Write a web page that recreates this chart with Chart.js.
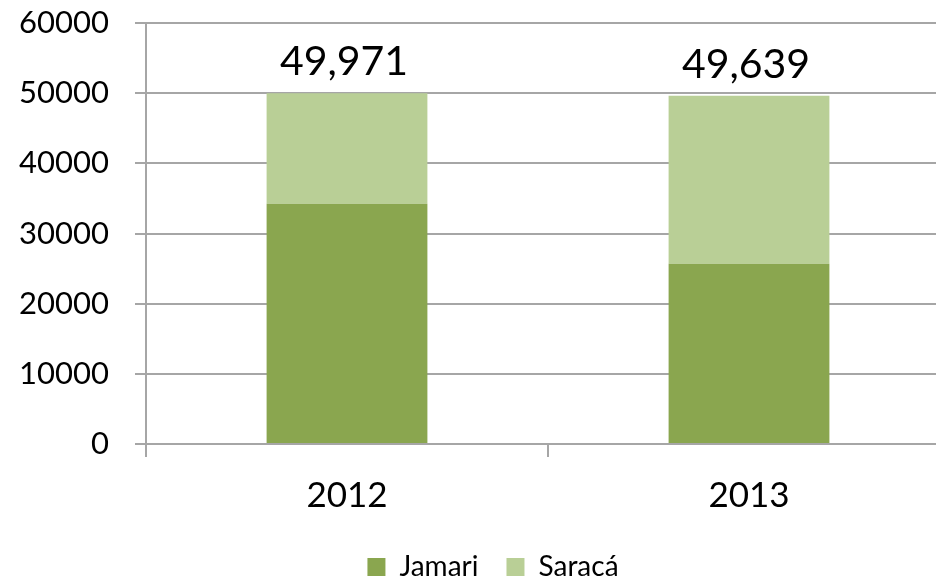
<!DOCTYPE html>
<html>
<head>
<meta charset="utf-8">
<script src="https://cdn.jsdelivr.net/npm/chart.js@4/dist/chart.umd.min.js"></script>
<style>
  html, body { margin: 0; padding: 0; overflow: hidden; background: #fff; }
  #wrap { position: absolute; left: 0; top: 0; width: 960px; height: 591px; }
</style>
</head>
<body>
<div id="wrap"><canvas id="c"></canvas></div>
<script>
const categories = ['2012', '2013'];
const jamari = [34250, 25680];
const saraca = [15721, 23959];
const yTicks = [0, 10000, 20000, 30000, 40000, 50000, 60000];

const FONT = 'Lato';
const GRID = '#a6a6a6';

const totalsPlugin = {
  id: 'totals',
  afterDatasetsDraw(chart) {
    const ctx = chart.ctx;
    const meta = chart.getDatasetMeta(chart.data.datasets.length - 1);
    ctx.save();
    ctx.font = '41px ' + FONT;
    ctx.fillStyle = '#000';
    ctx.textAlign = 'center';
    ctx.textBaseline = 'alphabetic';
    categories.forEach((c, i) => {
      const total = chart.data.datasets.reduce((s, d) => s + d.data[i], 0);
      const bar = meta.data[i];
      ctx.fillText(total.toLocaleString('en-US'), bar.x - 3, bar.y - 18);
    });
    ctx.restore();
  }
};

const legendShift = {
  id: 'legendShift',
  afterLayout(chart) {
    if (chart.legend) {
      chart.legend.left += 18;
      chart.legend.right += 18;
    }
  }
};

new Chart(document.getElementById('c'), {
  type: 'bar',
  data: {
    labels: categories,
    datasets: [
      { label: 'Jamari', data: jamari, backgroundColor: '#8aa64f', borderWidth: 0 },
      { label: 'Saracá', data: saraca, backgroundColor: '#b9cf96', borderWidth: 0 }
    ]
  },
  options: {
    responsive: true,
    maintainAspectRatio: false,
    animation: false,
    devicePixelRatio: 1,
    layout: { padding: { top: 0, right: 10, left: 0, bottom: 0 } },
    datasets: { bar: { categoryPercentage: 1.0, barPercentage: 0.4 } },
    scales: {
      x: {
        stacked: true,
        offset: true,
        grid: {
          offset: true,
          drawOnChartArea: false,
          drawTicks: true,
          tickLength: 13,
          color: GRID,
          lineWidth: 2
        },
        border: { display: true, color: GRID, width: 2 },
        ticks: { color: '#000', font: { family: FONT, size: 35 }, padding: 18 },
        afterFit(scale) {
          const lh = scale.chart.legend ? scale.chart.legend.height : 0;
          scale.height = 591 - lh - 444;
        }
      },
      y: {
        stacked: true,
        min: 0,
        max: 60000,
        afterBuildTicks(scale) { scale.ticks = yTicks.map(v => ({ value: v })); },
        grid: { color: GRID, lineWidth: 2, tickLength: 11, drawTicks: true },
        border: { display: true, color: GRID, width: 2 },
        ticks: { color: '#000', font: { family: FONT, size: 31 }, padding: 26, callback: v => String(v) },
        afterFit(scale) {
          scale.width = 146;
          scale.paddingTop = 23;
          scale.paddingBottom = 0;
        }
      }
    },
    plugins: {
      tooltip: { enabled: false },
      legend: {
        position: 'bottom',
        labels: {
          color: '#000',
          font: { family: FONT, size: 28 },
          boxWidth: 18,
          boxHeight: 18,
          padding: 28
        }
      }
    }
  },
  plugins: [totalsPlugin, legendShift]
});
</script>
</body>
</html>
